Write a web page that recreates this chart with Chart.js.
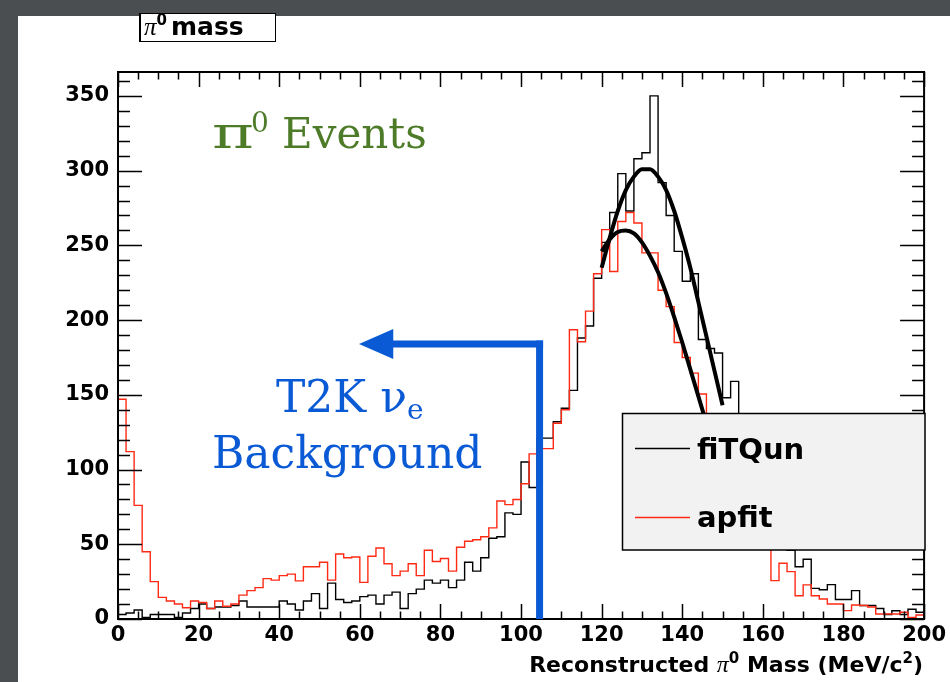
<!DOCTYPE html>
<html><head><meta charset="utf-8">
<script src="https://cdn.jsdelivr.net/npm/chart.js@4.4.1/dist/chart.umd.min.js"></script>
<style>html,body{margin:0;padding:0;background:#4a4e51;overflow:hidden}canvas{display:block}</style>
</head><body>
<canvas id="c" width="950" height="682"></canvas>
<script>
// ---- data (2 MeV bins from 0 to 200 MeV/c^2) ----
const BIN_WIDTH = 2;
const X_MIN = 0, X_MAX = 200, Y_MAX = 366;
const fitqunCounts = [
  3, 4, 6, 1, 3, 3, 3, 1, 4, 7,
  10, 7, 8, 8, 9, 12, 8, 8, 8, 8,
  12, 10, 6, 12, 17, 7, 24, 13, 11, 12,
  15, 16, 10, 16, 18, 7, 17, 20, 26, 24,
  26, 21, 26, 38, 32, 41, 54, 55, 71, 70,
  105, 88, 121, 121, 132, 141, 153, 188, 196, 228,
  252, 272, 298, 273, 308, 312, 350, 292, 270, 246,
  226, 231, 187, 181, 178, 148, 159, 130, 115, 100,
  85, 70, 55, 46, 35, 40, 20.5, 19.6, 23, 13,
  13, 19, 9, 9, 7, 3, 5.5, 3, 6.5, 4.5
];
const apfitCounts = [
  147, 112, 76, 45, 25, 14.5, 12, 10, 7.5, 12,
  11, 7, 12, 8.5, 10, 16, 19, 21, 27, 26,
  29, 30, 25.5, 35, 35, 38, 26, 43.5, 41, 41.5,
  24.5, 42, 47.5, 37, 29, 32, 37, 29, 46, 38.5,
  40.5, 32, 48, 52, 53, 55, 61, 79, 76.5, 80,
  90.5, 110.5, 114, 114, 131, 140, 193.5, 185.5, 206, 231,
  260.5, 232.5, 266, 272, 265, 245, 245, 220, 209, 185,
  175, 164.5, 150.5, 130, 118, 106, 95, 84, 73, 63,
  54, 25.7, 37.3, 31.7, 15.6, 22.8, 15.6, 13.4, 10, 10,
  5.6, 9.4, 9, 8, 3.3, 3.3, 3.3, 4.5, 1.1, 2.7
];
// Gaussian fit curves
const fitMass   = [120, 122, 124, 126, 128, 130, 132, 134, 136, 138, 140, 142, 144, 146, 148, 150];
const fitqunFit = [235, 255, 273, 287, 296, 301, 301, 296, 287, 273, 255, 235, 212, 189, 166, 143];
const apfitFit  = [246, 254, 259, 260, 258, 252, 243, 232, 218, 202, 185, 167, 149, 131, 114, 98];
// annotation: T2K nu_e cut
const CUT_MASS = 104.6, ARROW_LEVEL = 184, ARROW_BASE_MASS = 68.3, ARROW_TIP_MASS = 59.8;
const X_TICK_STEP = 20, Y_TICK_STEP = 50;

function stepPoints(counts) {
  const pts = counts.map((v, i) => ({x: X_MIN + i * BIN_WIDTH, y: v}));
  pts.push({x: X_MIN + counts.length * BIN_WIDTH, y: counts[counts.length - 1]});
  return pts;
}
const curve = (xs, ys) => xs.map((x, i) => ({x, y: ys[i]}));

const RED = '#ff2a14', BLUE = '#0a5ad6', GREEN = '#4d7b28';
const SANS = '"DejaVu Sans", "Liberation Sans", sans-serif';
const SERIF = '"DejaVu Serif", "Liberation Serif", serif';

function drawRich(ctx, parts, x, baseline, align) {
  let total = 0;
  parts.forEach(p => { ctx.font = p.f; p.w = ctx.measureText(p.t).width; total += p.w + (p.gap || 0); });
  let cx = align === 'right' ? x - total : x;
  parts.forEach(p => {
    ctx.font = p.f; ctx.fillStyle = p.c || '#000';
    ctx.fillText(p.t, cx, baseline + (p.dy || 0));
    cx += p.w + (p.gap || 0);
  });
}

const rootPlugin = {
  id: 'rootStyle',
  beforeDraw(chart) {
    const ctx = chart.ctx;
    ctx.save();
    ctx.fillStyle = '#4a4e51';
    ctx.fillRect(0, 0, chart.width, chart.height);
    ctx.fillStyle = '#ffffff';
    ctx.fillRect(18, 16, chart.width - 18, chart.height - 16);
    ctx.restore();
  },
  afterDatasetsDraw(chart) {
    const {ctx, chartArea: a, scales: {x, y}} = chart;
    ctx.save();
    // frame
    ctx.strokeStyle = '#000'; ctx.lineWidth = 2;
    ctx.strokeRect(a.left, a.top, a.right - a.left, a.bottom - a.top);
    // ticks
    ctx.lineWidth = 1.5;
    ctx.beginPath();
    for (let v = 0; v <= Y_MAX; v += 10) {
      const py = Math.round(y.getPixelForValue(v)) + 0.5;
      const len = v % Y_TICK_STEP === 0 ? 24 : 12;
      ctx.moveTo(a.left, py); ctx.lineTo(a.left + len, py);
      ctx.moveTo(a.right, py); ctx.lineTo(a.right - len, py);
    }
    for (let v = X_MIN; v <= X_MAX; v += 5) {
      const px = Math.round(x.getPixelForValue(v)) + 0.5;
      const len = v % X_TICK_STEP === 0 ? 15 : 7.5;
      ctx.moveTo(px, a.bottom); ctx.lineTo(px, a.bottom - len);
      ctx.moveTo(px, a.top); ctx.lineTo(px, a.top + len);
    }
    ctx.stroke();

    // blue arrow
    const lw = 7;
    const cx = x.getPixelForValue(CUT_MASS);
    const ly = y.getPixelForValue(ARROW_LEVEL);
    const bx = x.getPixelForValue(ARROW_BASE_MASS);
    const tx = x.getPixelForValue(ARROW_TIP_MASS);
    ctx.fillStyle = BLUE;
    ctx.fillRect(cx - lw / 2, ly - lw / 2, lw, y.getPixelForValue(0) - ly + lw / 2);
    ctx.fillRect(bx - 1, ly - lw / 2, cx + lw / 2 - bx + 1, lw);
    ctx.beginPath();
    ctx.moveTo(tx, ly); ctx.lineTo(bx, ly - 15); ctx.lineTo(bx, ly + 15); ctx.closePath();
    ctx.fill();

    // annotation texts
    ctx.textBaseline = 'alphabetic'; ctx.textAlign = 'left';
    ctx.fillStyle = GREEN;
    ctx.save(); ctx.translate(212, 148); ctx.scale(1.45, 1);
    ctx.font = '44px ' + SERIF; ctx.fillText('π', 0, 0);
    ctx.restore();
    ctx.font = '28px ' + SERIF; ctx.fillText('0', 251, 132);
    ctx.font = '42px ' + SERIF; ctx.fillText('Events', 282, 148);
    ctx.fillStyle = BLUE;
    ctx.font = '44px ' + SERIF; ctx.fillText('T2K ν', 276, 412);
    ctx.font = '28px ' + SERIF; ctx.fillText('e', 407, 419);
    ctx.font = '44px ' + SERIF; ctx.fillText('Background', 212, 468);

    // legend box
    ctx.fillStyle = '#f2f2f2';
    ctx.fillRect(622, 413, 303, 137);
    ctx.strokeStyle = '#000'; ctx.lineWidth = 1.5;
    ctx.strokeRect(622.5, 413.5, 302.5, 136.5);
    ctx.lineWidth = 1.5;
    ctx.strokeStyle = '#000';
    ctx.beginPath(); ctx.moveTo(635, 448.5); ctx.lineTo(690, 448.5); ctx.stroke();
    ctx.strokeStyle = RED;
    ctx.beginPath(); ctx.moveTo(635, 517.5); ctx.lineTo(690, 517.5); ctx.stroke();
    ctx.fillStyle = '#000';
    ctx.font = 'bold 29px ' + SANS;
    ctx.fillText('fiTQun', 697, 459);
    ctx.fillText('apfit', 697, 527);

    // title box
    ctx.fillStyle = '#fff';
    ctx.fillRect(140, 13, 136, 29);
    ctx.strokeStyle = '#000'; ctx.lineWidth = 1;
    ctx.strokeRect(140.5, 13.5, 135, 28);
    ctx.lineWidth = 2;
    ctx.beginPath(); ctx.moveTo(140, 13); ctx.lineTo(140, 42); ctx.stroke();
    drawRich(ctx, [
      {t: 'π', f: 'italic 25px "Liberation Serif", serif'},
      {t: '0', f: 'bold 15px ' + SANS, dy: -10, gap: 4},
      {t: 'mass', f: 'bold 25px ' + SANS}
    ], 144, 35, 'left');

    // x axis title
    drawRich(ctx, [
      {t: 'Reconstructed ', f: 'bold 22px ' + SANS},
      {t: 'π', f: 'italic 24px "Liberation Serif", serif'},
      {t: '0', f: 'bold 15px ' + SANS, dy: -9},
      {t: ' Mass (MeV/c', f: 'bold 22px ' + SANS},
      {t: '2', f: 'bold 15px ' + SANS, dy: -9},
      {t: ')', f: 'bold 22px ' + SANS}
    ], 923, 672, 'right');
    ctx.restore();
  }
};

new Chart(document.getElementById('c'), {
  type: 'line',
  data: {
    datasets: [
      {label: 'fiTQun fit', data: curve(fitMass, fitqunFit), borderColor: '#000', borderWidth: 4,
       pointRadius: 0, cubicInterpolationMode: 'monotone', fill: false, order: 0},
      {label: 'apfit fit', data: curve(fitMass, apfitFit), borderColor: '#000', borderWidth: 4,
       pointRadius: 0, cubicInterpolationMode: 'monotone', fill: false, order: 0},
      {label: 'apfit', data: stepPoints(apfitCounts), borderColor: RED, borderWidth: 1.4,
       pointRadius: 0, stepped: 'before', fill: false, order: 1},
      {label: 'fiTQun', data: stepPoints(fitqunCounts), borderColor: '#000', borderWidth: 1.4,
       pointRadius: 0, stepped: 'before', fill: false, order: 2}
    ]
  },
  options: {
    responsive: false,
    animation: false,
    devicePixelRatio: 1,
    layout: {padding: {top: 72, right: 25, left: 0, bottom: 0}},
    plugins: {legend: {display: false}, tooltip: {enabled: false}, title: {display: false}},
    scales: {
      x: {
        type: 'linear', min: X_MIN, max: X_MAX,
        grid: {display: false, drawTicks: false}, border: {display: false},
        ticks: {stepSize: X_TICK_STEP, maxRotation: 0, autoSkip: false, padding: 4, color: '#000',
                font: {family: SANS, weight: 'bold', size: 21}},
        afterFit: s => { s.height = 63; }
      },
      y: {
        type: 'linear', min: 0, max: Y_MAX,
        grid: {display: false, drawTicks: false}, border: {display: false},
        ticks: {stepSize: Y_TICK_STEP, includeBounds: false, padding: 9, color: '#000',
                font: {family: SANS, weight: 'bold', size: 21}},
        afterFit: s => { s.width = 118; }
      }
    }
  },
  plugins: [rootPlugin]
});
</script>
</body></html>
